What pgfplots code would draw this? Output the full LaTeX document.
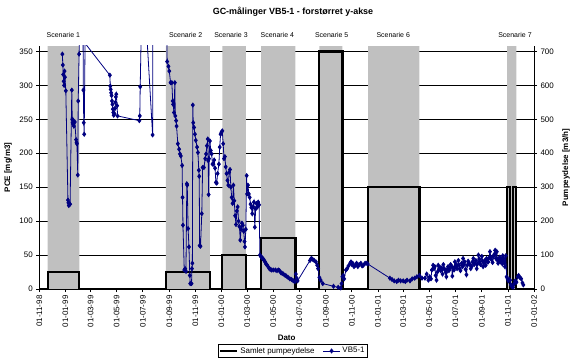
\documentclass[border=0pt]{standalone}
\usepackage{fontspec}
\setmainfont{Liberation Sans}
\usepackage{pgfplots}
\pgfplotsset{compat=1.18}
\definecolor{silvergray}{RGB}{192,192,192}
\definecolor{navyblue}{RGB}{0,0,128}
\pgfplotsset{
  common/.style={
    at={(39.3bp,73bp)}, anchor=south west,
    scale only axis, width=494.7bp, height=243bp,
    xmin=0, xmax=1157,
    axis line style={-, line width=0.8bp},
    tick align=outside, major tick length=3bp,
    tick style={black, line width=0.8bp},
    /pgf/number format/assume math mode=true,
    clip mode=individual,
  }
}
\begin{document}
\begin{tikzpicture}[x=1bp,y=1bp]
\path[use as bounding box] (0,0) rectangle (574,362);
% ---------- axis A: grid, scenario shading, right ticks ----------
\begin{axis}[common, ymin=0, ymax=716,
  axis x line=none, axis y line*=right,
  ytick={0,100,...,700},
  ymajorgrids, grid style={black, line width=0.8bp},
  yticklabel style={font=\fontsize{8}{9}\selectfont},
  ylabel={Pumpeydelse [m3/h]},
  ylabel style={font=\bfseries\fontsize{8}{9}\selectfont, at={(axis description cs:1.0647,0.5)}, anchor=center},
]
\addplot[fill=silvergray, draw=none] coordinates {(19.6,0)(19.6,716)(93.5,716)(93.5,0)} \closedcycle;
\addplot[fill=silvergray, draw=none] coordinates {(296,0)(296,716)(399,716)(399,0)} \closedcycle;
\addplot[fill=silvergray, draw=none] coordinates {(428,0)(428,716)(483,716)(483,0)} \closedcycle;
\addplot[fill=silvergray, draw=none] coordinates {(519,0)(519,716)(599,716)(599,0)} \closedcycle;
\addplot[fill=silvergray, draw=none] coordinates {(655,0)(655,716)(709,716)(709,0)} \closedcycle;
\addplot[fill=silvergray, draw=none] coordinates {(769,0)(769,716)(889,716)(889,0)} \closedcycle;
\addplot[fill=silvergray, draw=none] coordinates {(1094,0)(1094,716)(1116,716)(1116,0)} \closedcycle;
\node[anchor=base, yshift=8.3bp, font=\fontsize{7}{8}\selectfont] at (axis cs:56.1,716) {Scenarie 1};
\node[anchor=base, yshift=8.3bp, font=\fontsize{7}{8}\selectfont] at (axis cs:342.4,716) {Scenarie 2};
\node[anchor=base, yshift=8.3bp, font=\fontsize{7}{8}\selectfont] at (axis cs:448.3,716) {Scenarie 3};
\node[anchor=base, yshift=8.3bp, font=\fontsize{7}{8}\selectfont] at (axis cs:556.6,716) {Scenarie 4};
\node[anchor=base, yshift=8.3bp, font=\fontsize{7}{8}\selectfont] at (axis cs:683.8,716) {Scenarie 5};
\node[anchor=base, yshift=8.3bp, font=\fontsize{7}{8}\selectfont] at (axis cs:827.8,716) {Scenarie 6};
\node[anchor=base, yshift=8.3bp, font=\fontsize{7}{8}\selectfont] at (axis cs:1112.5,716) {Scenarie 7};
\end{axis}
% ---------- axis B: total pumping rate (right units) ----------
\begin{axis}[common, ymin=0, ymax=716, hide axis]
\addplot[black, line width=2.2bp] coordinates {
 (0,0) (19.6,0) (19.6,50) (93.5,50) (93.5,0) (296,0) (296,50) (399,50) (399,0)
 (428,0) (428,100) (483,100) (483,0) (519,0) (519,150) (599,150) (599,0)
 (655,0) (655,700) (709,700) (709,0) (769,0) (769,300) (889,300) (889,0)
 (1094,0) (1094,300) (1100,300) (1100,0) (1108,0) (1108,300) (1115,300) (1115,0) (1157,0)};
\end{axis}
% ---------- axis C: PCE ----------
\begin{axis}[common, ymin=0, ymax=358,
  axis x line*=bottom, axis y line*=left,
  xtick={0,61,120,181,242,304,365,426,486,547,608,670,731,792,851,912,973,1035,1096,1157},
  xticklabels={01-11-98,01-01-99,01-03-99,01-05-99,01-07-99,01-09-99,01-11-99,01-01-00,01-03-00,01-05-00,01-07-00,01-09-00,01-11-00,01-01-01,01-03-01,01-05-01,01-07-01,01-09-01,01-11-01,01-01-02},
  xticklabel style={rotate=90, anchor=east, font=\fontsize{8}{9}\selectfont},
  ytick={0,50,...,350},
  yticklabel style={font=\fontsize{8}{9}\selectfont},
  xlabel={Dato},
  xlabel style={font=\bfseries\fontsize{8}{9}\selectfont, at={(axis description cs:0.5,-0.2016)}, anchor=center},
  ylabel={PCE [mg/m3]},
  ylabel style={font=\bfseries\fontsize{8}{9}\selectfont, at={(axis description cs:-0.0633,0.5)}, anchor=center},
  legend style={at={(axis description cs:0.5125,-0.255)}, anchor=center, legend columns=2,
    draw=black, line width=0.6bp, font=\fontsize{8}{9}\selectfont, inner sep=1bp,
    /tikz/every even column/.append style={column sep=6bp}},
]
\addlegendimage{black, line width=2.2bp}
\addlegendentry{Samlet pumpeydelse}
\addplot[navyblue, line width=0.8bp, mark=diamond*, mark size=2bp, mark options={solid, fill=navyblue}] coordinates {
(54,346) (55,330) (56,316) (57,306) (58,300) (59,321) (60,312) (62,292) (67,131) (68,127)
(69,123) (70,126) (72,125) (76,293) (77,250) (78,245) (79,243) (80,248) (81,240) (83,246)
(86,220) (87,216) (88,214) (90,168) (91,277) (93,346) (96,430) (102,420) (103,293) (104,245)
(105,228) (107,362) (165,315) (166,299) (167,294) (168,289) (169,285) (170,277) (171,272) (172,265)
(173,260) (174,256) (176,258) (177,266) (178,275) (179,283) (180,287) (182,270) (183,255) (234,248)
(235,255) (236,298) (238,365) (250,390) (265,227) (266,480) (297,430) (299,335) (302,328) (304,321)
(307,304) (310,304) (312,277) (313,272) (315,260) (317,304) (318,255) (320,248) (321,240) (324,214)
(327,206) (329,199) (331,196) (334,182) (335,135) (336,94) (339,28) (341,30) (343,26) (345,155)
(346,153) (348,89) (350,62) (352,20) (353,8) (356,8) (357,30) (358,38) (359,271) (360,245)
(362,238) (364,228) (366,219) (369,209) (371,201) (373,175) (374,166) (375,64) (377,63) (380,111)
(382,179) (385,179) (388,192) (390,199) (392,211) (394,221) (395,189) (396,139) (397,192) (399,218)
(401,204) (403,199) (405,184) (407,184) (409,190) (411,178) (413,157) (415,156) (417,170) (420,184)
(422,209) (424,228) (426,231) (428,233) (430,214) (432,192) (434,195) (436,180) (438,170) (440,160)
(442,153) (444,172) (446,176) (448,150) (450,135) (452,126) (454,153) (456,130) (458,108) (460,95)
(462,115) (464,121) (466,100) (468,92) (470,72) (472,88) (474,97) (476,94) (478,85) (480,70)
(481,62) (483,88) (485,167) (486,140) (488,153) (490,140) (492,135) (494,125) (496,120) (498,111)
(500,121) (502,128) (504,91) (506,118) (508,126) (510,121) (512,128) (514,124) (516,50) (518,48)
(520,47) (522,45) (524,44) (526,42) (528,40) (530,37) (532,36) (535,33) (538,30) (540,29)
(543,28) (547,28) (552,28) (556,27) (559,28) (562,27) (565,24) (568,23) (571,22) (575,20)
(578,19) (582,17) (586,15) (590,14) (594,12) (598,11) (600,22) (602,16) (604,12) (633,42)
(636,45) (639,44) (643,42) (647,40) (650,35) (652,30) (655,17) (658,13) (663,8) (688,4)
(699,2.5) (705,1.5) (707,8) (709,18) (711,20) (713,15) (717,28) (720,30) (723,34) (727,38)
(729,40) (731,36) (733,38) (736,33) (739,35) (742,38) (745,33) (748,36) (752,38) (755,34)
(758,35) (762,38) (766,38) (768,37) (820,16) (825,14) (830,12) (836,11) (840,13) (845,12)
(851,12) (856,11) (860,13) (867,12) (872,15) (878,16) (883,18) (889,20) (895,16) (902,16)
(906,22) (910,13) (913,18) (916,15) (918,28) (921,35) (923,30) (925,33) (927,20) (929,13)
(931,25) (933,35) (935,29) (937,32) (939,27) (941,31) (943,22) (945,36) (947,30) (949,28)
(951,24) (952,18) (954,29) (956,33) (958,27) (960,30) (962,36) (964,34) (966,19) (968,31)
(970,28) (972,40) (974,33) (975,36) (977,30) (980,42) (982,35) (983,30) (985,27) (988,38)
(990,33) (991,45) (993,36) (995,40) (997,29) (999,21) (1001,35) (1003,41) (1005,38) (1007,36)
(1009,30) (1011,33) (1013,40) (1015,45) (1017,36) (1019,38) (1021,42) (1023,30) (1025,37) (1027,50)
(1029,44) (1030,40) (1032,36) (1035,48) (1037,41) (1038,33) (1040,39) (1042,42) (1044,35) (1046,45)
(1048,40) (1050,40) (1052,46) (1054,55) (1056,47) (1058,43) (1060,39) (1062,48) (1064,51) (1066,57)
(1068,45) (1070,55) (1072,42) (1073,38) (1075,44) (1077,47) (1079,40) (1081,44) (1083,37) (1084,49)
(1086,45) (1087,40) (1089,33) (1091,49) (1093,18) (1095,15) (1097,12) (1099,14) (1101,13) (1103,6)
(1105,4) (1108,2.5) (1111,8) (1113,12) (1116,10) (1119,18) (1121,20) (1124,17) (1127,15) (1130,9)
(1132,6)};
\addlegendentry{VB5-1}
\end{axis}
\node[font=\bfseries\fontsize{9}{10}\selectfont] at (293,350) {GC-målinger VB5-1 - forstørret y-akse};
\end{tikzpicture}
\end{document}
